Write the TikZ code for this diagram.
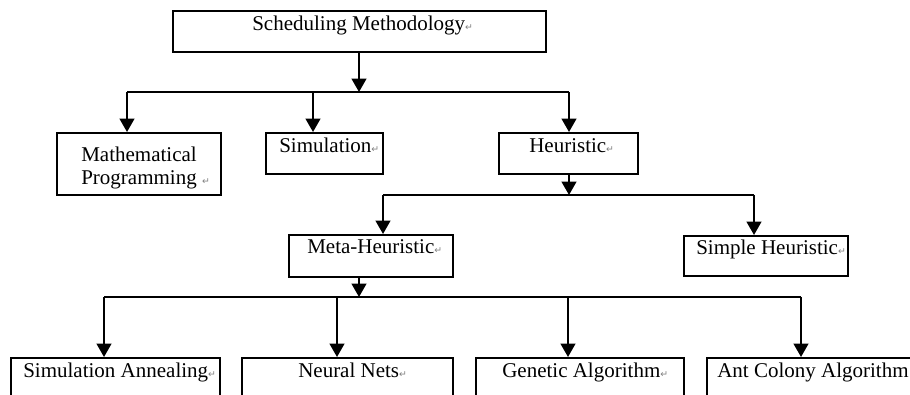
\documentclass[tikz,border=0pt]{standalone}
\usepackage{fontspec}
\setmainfont{Liberation Serif}
\newfontfamily\symfont{DejaVu Sans}
\usetikzlibrary{arrows.meta}
\newcommand{\pmark}{{\color{gray}\symfont\fontsize{7pt}{7pt}\selectfont ↵}}
\begin{document}
\begin{tikzpicture}[x=0.75pt,y=-0.75pt,
  box/.style={draw, line width=1.5pt, rectangle, inner sep=0pt},
  lbl/.style={anchor=base west, inner sep=0pt, font=\fontsize{15.75pt}{18pt}\selectfont},
  conn/.style={line width=1.5pt, -{Triangle[width=11pt,length=10pt]}},
  bar/.style={line width=1.5pt}]
\useasboundingbox (0,0) rectangle (910,395);
\clip (0,0) rectangle (910,395);
% boxes
\node[box, minimum width={373*0.75pt}, minimum height={41*0.75pt}] (sm) at (359.5,31.5) {};
\node[box, minimum width={164*0.75pt}, minimum height={62*0.75pt}] (mp) at (139,164) {};
\node[box, minimum width={117*0.75pt}, minimum height={41*0.75pt}] (si) at (324.5,153.5) {};
\node[box, minimum width={139*0.75pt}, minimum height={41*0.75pt}] (he) at (568.5,153.5) {};
\node[box, minimum width={164*0.75pt}, minimum height={42*0.75pt}] (mh) at (371,256) {};
\node[box, minimum width={164*0.75pt}, minimum height={40*0.75pt}] (sh) at (766,256) {};
\node[box, minimum width={209*0.75pt}, minimum height={62*0.75pt}] (sa) at (115.5,389) {};
\node[box, minimum width={211*0.75pt}, minimum height={62*0.75pt}] (nn) at (347.5,389) {};
\node[box, minimum width={208*0.75pt}, minimum height={62*0.75pt}] (ga) at (580,389) {};
\node[box, minimum width={223*0.75pt}, minimum height={62*0.75pt}] (ac) at (818.5,389) {};
% labels
\node[lbl] (tsm) at (252,31) {Scheduling Methodology\pmark};
\node[lbl] (tmp1) at (81,162) {Mathematical};
\node[lbl] (tmp2) at (81,185) {Programming \pmark};
\node[lbl] (tsi) at (279,153) {Simulation\pmark};
\node[lbl] (the) at (529,153) {Heuristic\pmark};
\node[lbl] (tmh) at (307,254) {Meta-Heuristic\pmark};
\node[lbl] (tsh) at (696,255) {Simple Heuristic\pmark};
\node[lbl] (tsa) at (23,377) {Simulation Annealing\pmark};
\node[lbl] (tnn) at (298,377) {Neural Nets\pmark};
\node[lbl] (tga) at (502,377) {Genetic Algorithm\pmark};
\node[lbl] (tac) at (717,377) {Ant Colony Algorithm};
% level 1
\coordinate (b1M) at (359,92);
\coordinate (b1L) at (127,92);
\coordinate (b1S) at (313,92);
\coordinate (b1R) at (569,92);
\draw[conn] (b1M |- sm.south) -- (b1M);
\draw[bar] (b1L) -- (b1R);
\draw[conn] (b1L) -- (b1L |- mp.north);
\draw[conn] (b1S) -- (b1S |- si.north);
\draw[conn] (b1R) -- (b1R |- he.north);
% level 2
\coordinate (b2M) at (569,195);
\coordinate (b2L) at (383,195);
\coordinate (b2R) at (754,195);
\draw[conn] (b2M |- he.south) -- (b2M);
\draw[bar] (b2L) -- (b2R);
\draw[conn] (b2L) -- (b2L |- mh.north);
\draw[conn] (b2R) -- (b2R |- sh.north);
% level 3
\coordinate (b3M) at (359,297);
\coordinate (b3A) at (104,297);
\coordinate (b3B) at (337,297);
\coordinate (b3C) at (568,297);
\coordinate (b3D) at (801,297);
\draw[conn] (b3M |- mh.south) -- (b3M);
\draw[bar] (b3A) -- (b3D);
\draw[conn] (b3A) -- (b3A |- sa.north);
\draw[conn] (b3B) -- (b3B |- nn.north);
\draw[conn] (b3C) -- (b3C |- ga.north);
\draw[conn] (b3D) -- (b3D |- ac.north);
\end{tikzpicture}
\end{document}
